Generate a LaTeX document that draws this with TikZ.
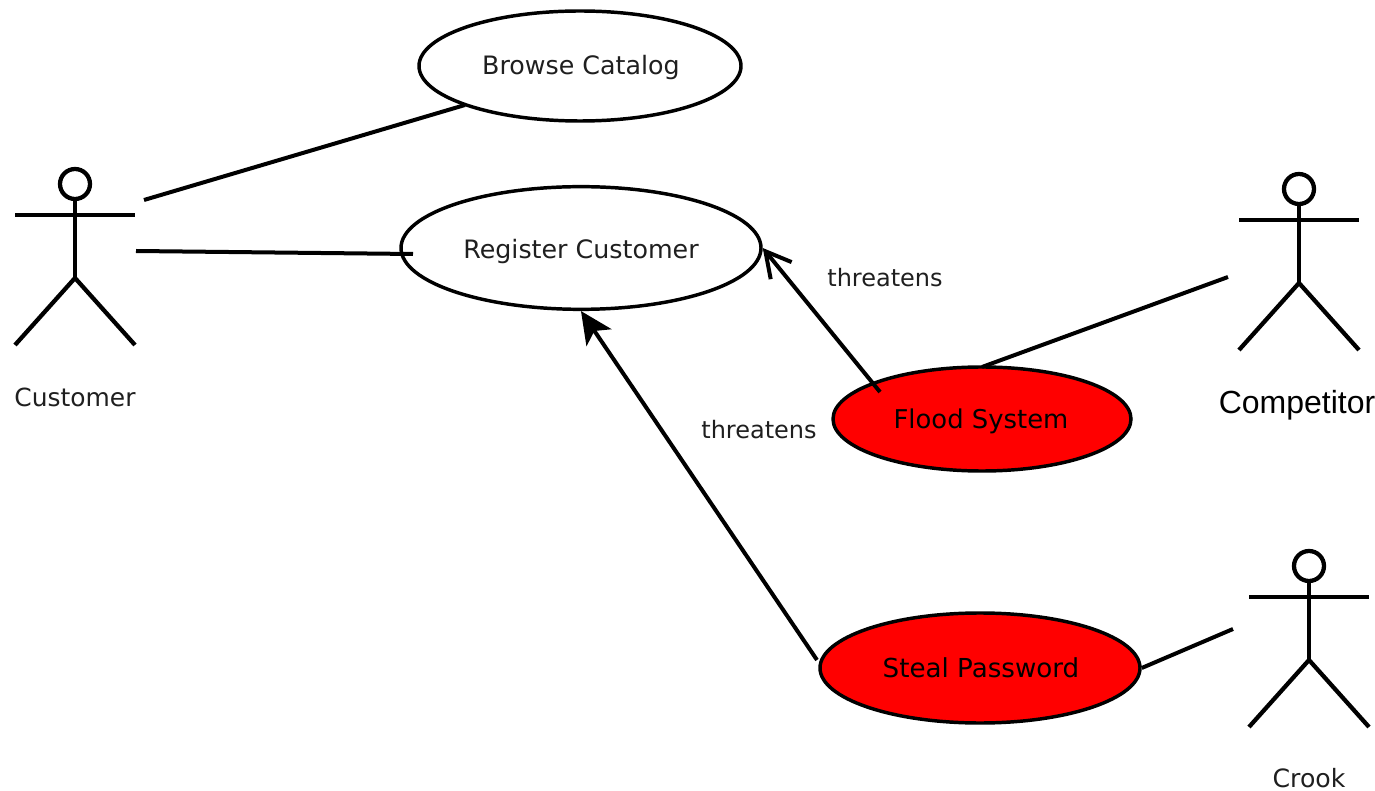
\documentclass[tikz,border=0pt]{standalone}
\usepackage{fontspec}
\setmainfont{DejaVu Sans}
\newfontfamily\arialfont{Liberation Sans}
\usetikzlibrary{shapes.geometric,arrows.meta}
\tikzset{
 usecase/.style={ellipse,draw=black,line width=2.6pt,inner sep=0pt,minimum width=#1},
 lbl/.style={inner sep=0pt,font=\fontsize{#1}{24}\selectfont,text=black!88},
 lnk/.style={draw=black,line width=3pt},
 actorline/.style={draw=black,line width=3.2pt},
}
\begin{document}
\begin{tikzpicture}[x=0.75pt,y=-0.75pt]
\useasboundingbox (0,0) rectangle (1375,791);
\fill[white] (0,0) rectangle (1375,791);
% use cases
\node[usecase=322pt*0.75,minimum height=82.5pt,fill=white] (browse) at (580,66) {};
\node[lbl=19] (browsetxt) at (581,68) {Browse Catalog};
\node[usecase=360pt*0.75,minimum height=92pt,fill=white] (register) at (581,248) {};
\node[lbl=19] (regtxt) at (581,252) {Register Customer};
\node[usecase=298pt*0.75,minimum height=78pt,fill=red] (flood) at (982,419) {};
\node[lbl=19.4,text=black] (floodtxt) at (981,421) {Flood System};
\node[usecase=320pt*0.75,minimum height=82.5pt,fill=red] (steal) at (980,668) {};
\node[lbl=19.6,text=black] (stealtxt) at (981,668) {Steal Password};
% actors
\newcommand{\actor}[3]{%
 \draw[actorline] (#1,#2) circle[radius=15];
 \draw[actorline] (#1,#2+16) -- (#1,#2+94);
 \draw[actorline] (#1-60,#2+31) -- (#1+60,#2+31);
 \draw[actorline] (#1-60,#2+161) -- (#1,#2+94) -- (#1+60,#2+161);
 \coordinate (#3) at (#1,#2);
}
\actor{75}{184}{customer}
\actor{1299}{189}{competitor}
\actor{1309}{566}{crook}
\node[lbl=18.7] (customerlbl) at (75,397) {Customer};
\node[inner sep=0pt,font=\arialfont\fontsize{24}{28}\selectfont] (competitorlbl) at (1297,405) {Competitor};
\node[lbl=18.9] (crooklbl) at (1309,778) {Crook};
\node[lbl=18] (t1) at (885,278) {threatens};
\node[lbl=18] (t2) at (759,430) {threatens};
% connector ends
\coordinate (c1) at (144,200);
\coordinate (c2) at (136,251);
\coordinate (c3) at (1228,277);
\coordinate (c4) at (1233,629);
\coordinate (b1) at (465,105);
\coordinate (r1) at (413,254);
\coordinate (f1) at (982,367);
\coordinate (f2) at (880,392);
\coordinate (s1) at (817,660);
\draw[lnk] (c1) -- (b1);
\draw[lnk] (c2) -- (r1);
\draw[lnk] (c3) -- (f1);
\draw[lnk] (c4) -- (steal.east);
\draw[lnk,-{Straight Barb[length=25pt*0.75,width=27pt*0.75]}] (f2) -- (register.east);
\draw[lnk,-{Stealth[length=32pt*0.75,width=30pt*0.75,inset=8pt*0.75]}] (s1) -- (register.south);
\end{tikzpicture}
\end{document}
